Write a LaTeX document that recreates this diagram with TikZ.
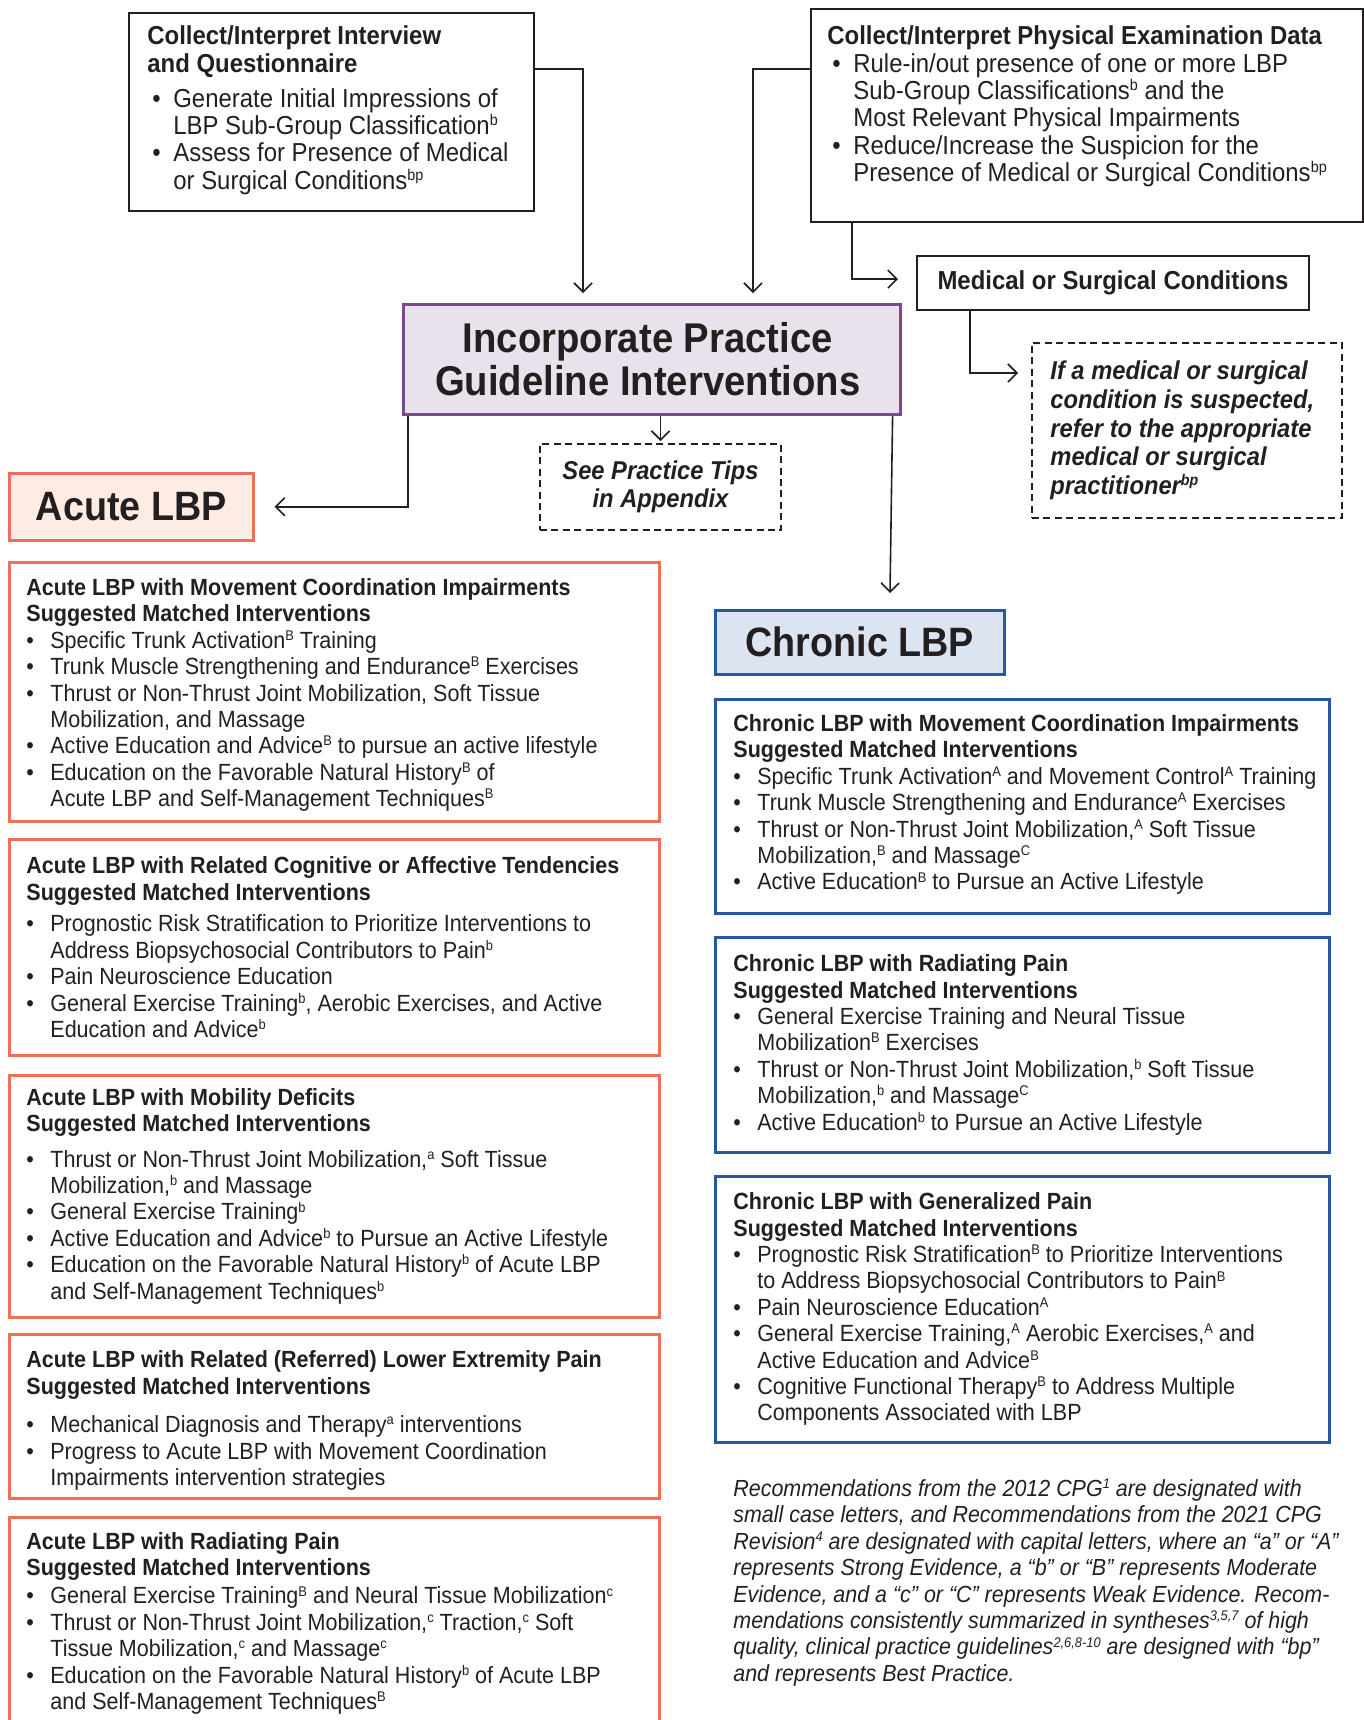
\documentclass[tikz,border=0pt]{standalone}
\usepackage{fontspec}
\setmainfont[FakeStretch=0.92]{Liberation Sans}
\usetikzlibrary{positioning,calc,arrows.meta}

\definecolor{ink}{RGB}{35,31,32}
\definecolor{acuteline}{RGB}{238,112,90}
\definecolor{acutefill}{RGB}{253,236,228}
\definecolor{chronline}{RGB}{36,88,160}
\definecolor{chronfill}{RGB}{220,228,242}
\definecolor{guideline}{RGB}{122,74,138}
\definecolor{guidefill}{RGB}{232,226,236}

\newcommand{\ev}[1]{\raisebox{0.34em}{\scalebox{0.6}{#1}}}
\newcommand{\bitem}{\makebox[12pt][l]{\textbullet}}
\newcommand{\bcont}{\hspace*{12pt}}
\newcommand{\titem}{\makebox[13pt][l]{\hspace{2.5pt}\textbullet}}
\newcommand{\tcont}{\hspace*{13pt}}

\tikzset{
  panel/.style 2 args={draw=ink,line width=1pt,inner sep=0pt,anchor=north west,
    minimum width=#1*0.5pt,minimum height=#2*0.5pt},
  acuteframe/.style={draw=acuteline,line width=1.3pt},
  chronframe/.style={draw=chronline,line width=1.3pt},
  dashframe/.style={dash pattern=on 3.5pt off 2.2pt},
  bodytext/.style={inner sep=0pt,align=left,text=ink,font=\fontsize{11.7}{13.2}\selectfont},
  toptext/.style={bodytext,font=\fontsize{13}{13.7}\selectfont},
  headtext/.style={text=ink,align=center,font=\fontsize{20.5}{21.4}\selectfont\bfseries},
  flow/.style={-{Straight Barb[length=4.5pt,width=9pt]},line width=0.8pt,draw=ink},
}

\begin{document}
\begin{tikzpicture}[x=0.5pt,y=-0.5pt]
\useasboundingbox (0,0) rectangle (1364,1720);

\node[panel={405}{198}] (intv) at (128,12) {};
\node[toptext,right=9.5pt of intv.west,yshift=0.9pt] (intvtext) {%
\textbf{Collect/Interpret Interview}\\
\textbf{and Questionnaire}\\[3.8pt]%
\titem Generate Initial Impressions of\\
\tcont LBP Sub-Group Classification\ev{b}\\
\titem Assess for Presence of Medical\\
\tcont or Surgical Conditions\ev{bp}};

\node[panel={552}{213}] (phys) at (810,8) {};
\node[toptext,right=8.5pt of phys.west,yshift=4.5pt] (physntext) {%
\textbf{Collect/Interpret Physical Examination Data}\\
\titem Rule-in/out presence of one or more LBP\\
\tcont Sub-Group Classifications\ev{b} and the\\
\tcont Most Relevant Physical Impairments\\
\titem Reduce/Increase the Suspicion for the\\
\tcont Presence of Medical or Surgical Conditions\ev{bp}};

\node[panel={392}{54},font=\fontsize{13}{13.7}\selectfont\bfseries,text=ink] (med) at (916,255) {Medical or Surgical Conditions};

\node[panel={310}{175},dashframe] (refer) at (1031,342) {};
\node[bodytext,right=9.5pt of refer.west,font=\fontsize{12.9}{14.3}\selectfont\bfseries\itshape] (refertext) {%
If a medical or surgical\\
condition is suspected,\\
refer to the appropriate\\
medical or surgical\\
practitioner\ev{bp}};

\node[panel={497}{110},draw=guideline,fill=guidefill,line width=1.3pt,headtext,font=\fontsize{20.8}{21.4}\selectfont\bfseries] (incorp) at (402,303) {\hspace*{-4pt}Incorporate Practice\\\hspace*{-4pt}Guideline Interventions};

\node[panel={241}{86},dashframe,text=ink,align=center,font=\fontsize{12.9}{14.3}\selectfont\bfseries\itshape] (tips) at (539,443) {See Practice Tips\\in Appendix};

\node[panel={244}{67},acuteframe,fill=acutefill,headtext] (acutelbp) at (8,472) {Acute LBP};
\node[panel={289}{64},chronframe,fill=chronfill,headtext] (chronlbp) at (714,609) {Chronic LBP};

\node[panel={650}{259},acuteframe] (amc) at (8,561) {};
\node[bodytext,right=9pt of amc.west,yshift=-1.6pt] (amctext) {%
\textbf{Acute LBP with Movement Coordination Impairments}\\
\textbf{Suggested Matched Interventions}\\
\bitem Specific Trunk Activation\ev{B} Training\\
\bitem Trunk Muscle Strengthening and Endurance\ev{B} Exercises\\
\bitem Thrust or Non-Thrust Joint Mobilization, Soft Tissue\\
\bcont Mobilization, and Massage\\
\bitem Active Education and Advice\ev{B} to pursue an active lifestyle\\
\bitem Education on the Favorable Natural History\ev{B} of\\
\bcont Acute LBP and Self-Management Techniques\ev{B}};

\node[panel={650}{216},acuteframe] (acog) at (8,838) {};
\node[bodytext,right=9pt of acog.west] (acogtext) {%
\textbf{Acute LBP with Related Cognitive or Affective Tendencies}\\
\textbf{Suggested Matched Interventions}\\[2.7pt]%
\bitem Prognostic Risk Stratification to Prioritize Interventions to\\
\bcont Address Biopsychosocial Contributors to Pain\ev{b}\\
\bitem Pain Neuroscience Education\\
\bitem General Exercise Training\ev{b}, Aerobic Exercises, and Active\\
\bcont Education and Advice\ev{b}};

\node[panel={650}{242},acuteframe] (amob) at (8,1074) {};
\node[bodytext,right=9pt of amob.west] (amobtext) {%
\textbf{Acute LBP with Mobility Deficits}\\
\textbf{Suggested Matched Interventions}\\[4.4pt]%
\bitem Thrust or Non-Thrust Joint Mobilization,\ev{a} Soft Tissue\\
\bcont Mobilization,\ev{b} and Massage\\
\bitem General Exercise Training\ev{b}\\
\bitem Active Education and Advice\ev{b} to Pursue an Active Lifestyle\\
\bitem Education on the Favorable Natural History\ev{b} of Acute LBP\\
\bcont and Self-Management Techniques\ev{b}};

\node[panel={650}{164},acuteframe] (aref) at (8,1333) {};
\node[bodytext,right=9pt of aref.west,yshift=-2.2pt] (areftext) {%
\textbf{Acute LBP with Related (Referred) Lower Extremity Pain}\\
\textbf{Suggested Matched Interventions}\\[6pt]%
\bitem Mechanical Diagnosis and Therapy\ev{a} interventions\\
\bitem Progress to Acute LBP with Movement Coordination\\
\bcont Impairments intervention strategies};

\node[panel={650}{212},acuteframe] (arad) at (8,1516) {};
\node[bodytext,right=9pt of arad.west] (aradtext) {%
\textbf{Acute LBP with Radiating Pain}\\
\textbf{Suggested Matched Interventions}\\[1pt]%
\bitem General Exercise Training\ev{B} and Neural Tissue Mobilization\ev{c}\\
\bitem Thrust or Non-Thrust Joint Mobilization,\ev{c} Traction,\ev{c} Soft\\
\bcont Tissue Mobilization,\ev{c} and Massage\ev{c}\\
\bitem Education on the Favorable Natural History\ev{b} of Acute LBP\\
\bcont and Self-Management Techniques\ev{B}};

\node[panel={614}{214},chronframe] (cmc) at (714,698) {};
\node[bodytext,right=9.5pt of cmc.west,yshift=0.8pt] (cmctext) {%
\textbf{Chronic LBP with Movement Coordination Impairments}\\
\textbf{Suggested Matched Interventions}\\
\bitem Specific Trunk Activation\ev{A} and Movement Control\ev{A} Training\\
\bitem Trunk Muscle Strengthening and Endurance\ev{A} Exercises\\
\bitem Thrust or Non-Thrust Joint Mobilization,\ev{A} Soft Tissue\\
\bcont Mobilization,\ev{B} and Massage\ev{C}\\
\bitem Active Education\ev{B} to Pursue an Active Lifestyle};

\node[panel={614}{215},chronframe] (crad) at (714,936) {};
\node[bodytext,right=9.5pt of crad.west] (cradtext) {%
\textbf{Chronic LBP with Radiating Pain}\\
\textbf{Suggested Matched Interventions}\\
\bitem General Exercise Training and Neural Tissue\\
\bcont Mobilization\ev{B} Exercises\\
\bitem Thrust or Non-Thrust Joint Mobilization,\ev{b} Soft Tissue\\
\bcont Mobilization,\ev{b} and Massage\ev{C}\\
\bitem Active Education\ev{b} to Pursue an Active Lifestyle};

\node[panel={614}{266},chronframe] (cgen) at (714,1175) {};
\node[bodytext,right=9.5pt of cgen.west] (cgentext) {%
\textbf{Chronic LBP with Generalized Pain}\\
\textbf{Suggested Matched Interventions}\\
\bitem Prognostic Risk Stratification\ev{B} to Prioritize Interventions\\
\bcont to Address Biopsychosocial Contributors to Pain\ev{B}\\
\bitem Pain Neuroscience Education\ev{A}\\
\bitem General Exercise Training,\ev{A} Aerobic Exercises,\ev{A} and\\
\bcont Active Education and Advice\ev{B}\\
\bitem Cognitive Functional Therapy\ev{B} to Address Multiple\\
\bcont Components Associated with LBP};

\node[bodytext,anchor=north west,font=\fontsize{11.65}{13.2}\selectfont\itshape] (legend) at ($(cgen.south west)+(19,35)$) {%
Recommendations from the 2012 CPG\ev{1} are designated with\\
small case letters, and Recommendations from the 2021 CPG\\
Revision\ev{4} are designated with capital letters, where an “a” or “A”\\
represents Strong Evidence, a “b” or “B” represents Moderate\\
Evidence, and a “c” or “C” represents Weak Evidence. Recom-\\
mendations consistently summarized in syntheses\ev{3,5,7} of high\\
quality, clinical practice guidelines\ev{2,6,8-10} are designed with “bp”\\
and represents Best Practice.};

\draw[flow] ($(intv.north east)+(0,57)$) -| ($(incorp.north west)+(181,-10)$);
\draw[flow] ($(phys.north west)+(0,61)$) -| ($(incorp.north west)+(351,-10)$);
\draw[flow] ($(phys.south west)+(42,0)$) |- ($(med.west)+(-18,-4)$);
\draw[flow] ($(med.south west)+(54,0)$) |- ($(refer.north west)+(-13,31)$);
\draw[flow] (incorp.south -| tips.north) -- ($(tips.north)+(0,-2)$);
\draw[flow] ($(incorp.south west)+(6,0)$) |- ($(acutelbp.east)+(20,0)$);
\draw[flow] ($(incorp.south east)+(-9,0)$) -- ($(chronlbp.north west)+(176,-16)$);
\end{tikzpicture}
\end{document}
